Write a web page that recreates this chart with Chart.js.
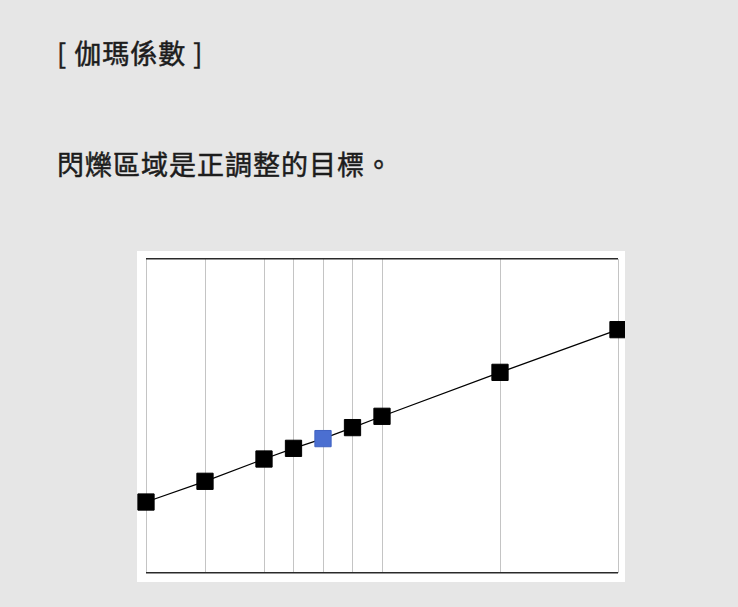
<!DOCTYPE html>
<html>
<head>
<meta charset="utf-8">
<script src="https://cdn.jsdelivr.net/npm/chart.js@4"></script>
<style>
  html, body { margin: 0; padding: 0; }
  body { width: 738px; height: 607px; background: #e6e6e6; position: relative; overflow: hidden;
         font-family: "Noto Sans CJK TC", "Noto Sans", sans-serif; color: #1c1c1c; }
  .txt { position: absolute; left: 57px; font-size: 27px; line-height: 27px; letter-spacing: 1px;
         white-space: nowrap; -webkit-text-stroke: 0.5px #1c1c1c; }
  #title { top: 39px; }
  #note { top: 150px; }
  #box { position: absolute; left: 137px; top: 251px; width: 488px; height: 331px; background: #fff; }
</style>
</head>
<body>
<div class="txt" id="title">[ 伽瑪係數 ]</div>
<div class="txt" id="note">閃爍區域是正調整的目標。</div>
<div id="box"><canvas id="gamma-chart" width="488" height="331"></canvas></div>
<script>
// adjustment points (x in 1/16 steps) and the output level
const xSteps = [0, 2, 4, 5, 6, 7, 8, 12, 16];
const levels = [22.6, 29.2, 36.3, 39.7, 42.8, 46.3, 49.9, 63.9, 77.5];
const activeIndex = 4; // the blinking point

const points = xSteps.map((x, i) => ({ x: x, y: levels[i] }));
const pointColors = xSteps.map((x, i) => i === activeIndex ? '#4b6fd1' : '#000000');
const pointBorders = xSteps.map((x, i) => i === activeIndex ? '#3f62c2' : '#000000');

const gammaChart = new Chart(document.getElementById("gamma-chart"), {
  type: 'scatter',
  data: {
    datasets: [{
      data: points,
      showLine: true,
      borderColor: '#000000',
      borderWidth: 1.2,
      pointStyle: 'rect',
      pointRadius: 11.5,
      pointHoverRadius: 11.5,
      pointBackgroundColor: pointColors,
      pointBorderColor: pointBorders,
      pointBorderWidth: 1,
      clip: false
    }]
  },
  options: {
    responsive: false,
    animation: false,
    events: [],
    layout: { autoPadding: false, padding: { left: 9, right: 7, top: 8, bottom: 9 } },
    plugins: { legend: { display: false }, tooltip: { enabled: false } },
    scales: {
      x: {
        type: 'linear', min: 0, max: 16,
        afterBuildTicks: (scale) => { scale.ticks = xSteps.map(v => ({ value: v })); },
        ticks: { display: false },
        grid: { color: '#c4c4c4', lineWidth: 1, drawTicks: false },
        border: { display: false }
      },
      y: {
        min: 0, max: 100,
        afterBuildTicks: (scale) => { scale.ticks = [{ value: 0 }, { value: 100 }]; },
        ticks: { display: false },
        grid: { color: '#2a2a2a', lineWidth: 1.6, drawTicks: false },
        border: { display: false }
      }
    }
  }
});
</script>
</body>
</html>
